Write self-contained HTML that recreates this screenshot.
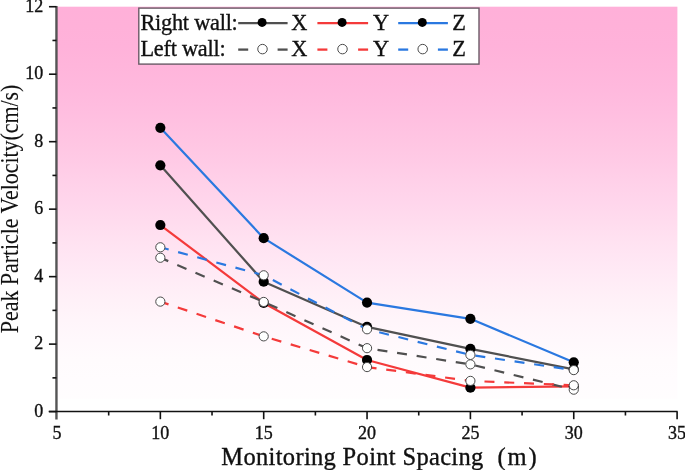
<!DOCTYPE html><html><head><meta charset="utf-8"><style>
html,body{margin:0;padding:0;background:#fff;width:685px;height:470px;overflow:hidden}
svg{display:block}
text{font-family:"Liberation Serif","Noto Serif CJK SC",serif;fill:#111;stroke:#111;stroke-width:0.35px}
</style></head><body>
<svg width="685" height="470" viewBox="0 0 685 470">
<defs><linearGradient id="g" x1="0" y1="0" x2="0" y2="1"><stop offset="0.00" stop-color="rgb(255,176,217)"/><stop offset="0.05" stop-color="rgb(255,177,217)"/><stop offset="0.10" stop-color="rgb(255,178,218)"/><stop offset="0.15" stop-color="rgb(255,181,219)"/><stop offset="0.20" stop-color="rgb(255,184,221)"/><stop offset="0.25" stop-color="rgb(255,188,223)"/><stop offset="0.30" stop-color="rgb(255,193,225)"/><stop offset="0.35" stop-color="rgb(255,198,227)"/><stop offset="0.40" stop-color="rgb(255,203,230)"/><stop offset="0.45" stop-color="rgb(255,209,233)"/><stop offset="0.50" stop-color="rgb(255,214,236)"/><stop offset="0.55" stop-color="rgb(255,220,238)"/><stop offset="0.60" stop-color="rgb(255,226,241)"/><stop offset="0.65" stop-color="rgb(255,231,244)"/><stop offset="0.70" stop-color="rgb(255,236,246)"/><stop offset="0.75" stop-color="rgb(255,241,248)"/><stop offset="0.80" stop-color="rgb(255,245,250)"/><stop offset="0.85" stop-color="rgb(255,248,252)"/><stop offset="0.90" stop-color="rgb(255,251,253)"/><stop offset="0.95" stop-color="rgb(255,252,254)"/><stop offset="1.00" stop-color="rgb(255,253,254)"/></linearGradient></defs>
<rect x="57.0" y="6.7" width="620.4" height="392.1" fill="url(#g)"/>
<polyline points="160.35,165.30 263.70,281.70 367.05,326.91 470.40,348.84 573.75,369.43" fill="none" stroke="#505050" stroke-width="2.2" stroke-linejoin="round"/>
<circle cx="160.35" cy="165.30" r="5.1" fill="#000"/>
<circle cx="263.70" cy="281.70" r="5.1" fill="#000"/>
<circle cx="367.05" cy="326.91" r="5.1" fill="#000"/>
<circle cx="470.40" cy="348.84" r="5.1" fill="#000"/>
<circle cx="573.75" cy="369.43" r="5.1" fill="#000"/>
<polyline points="160.35,225.02 263.70,302.96 367.05,359.98 470.40,387.64 573.75,386.30" fill="none" stroke="#f43a3a" stroke-width="2.2" stroke-linejoin="round"/>
<circle cx="160.35" cy="225.02" r="5.1" fill="#000"/>
<circle cx="263.70" cy="302.96" r="5.1" fill="#000"/>
<circle cx="367.05" cy="359.98" r="5.1" fill="#000"/>
<circle cx="470.40" cy="387.64" r="5.1" fill="#000"/>
<circle cx="573.75" cy="386.30" r="5.1" fill="#000"/>
<polyline points="160.35,127.85 263.70,238.18 367.05,302.62 470.40,318.81 573.75,362.34" fill="none" stroke="#2a78e0" stroke-width="2.2" stroke-linejoin="round"/>
<circle cx="160.35" cy="127.85" r="5.1" fill="#000"/>
<circle cx="263.70" cy="238.18" r="5.1" fill="#000"/>
<circle cx="367.05" cy="302.62" r="5.1" fill="#000"/>
<circle cx="470.40" cy="318.81" r="5.1" fill="#000"/>
<circle cx="573.75" cy="362.34" r="5.1" fill="#000"/>
<polyline points="160.35,257.75 263.70,301.95 367.05,348.17 470.40,364.36 573.75,389.67" fill="none" stroke="#505050" stroke-width="2.2" stroke-dasharray="10 9.8" stroke-dashoffset="1.4"/>
<circle cx="160.35" cy="257.75" r="4.6" fill="#fff" stroke="#4a4a4a" stroke-width="1.0"/>
<circle cx="263.70" cy="301.95" r="4.6" fill="#fff" stroke="#4a4a4a" stroke-width="1.0"/>
<circle cx="367.05" cy="348.17" r="4.6" fill="#fff" stroke="#4a4a4a" stroke-width="1.0"/>
<circle cx="470.40" cy="364.36" r="4.6" fill="#fff" stroke="#4a4a4a" stroke-width="1.0"/>
<circle cx="573.75" cy="389.67" r="4.6" fill="#fff" stroke="#4a4a4a" stroke-width="1.0"/>
<polyline points="160.35,301.61 263.70,336.36 367.05,367.06 470.40,380.90 573.75,385.28" fill="none" stroke="#f43a3a" stroke-width="2.2" stroke-dasharray="10 9.8" stroke-dashoffset="1.4"/>
<circle cx="160.35" cy="301.61" r="4.6" fill="#fff" stroke="#4a4a4a" stroke-width="1.0"/>
<circle cx="263.70" cy="336.36" r="4.6" fill="#fff" stroke="#4a4a4a" stroke-width="1.0"/>
<circle cx="367.05" cy="367.06" r="4.6" fill="#fff" stroke="#4a4a4a" stroke-width="1.0"/>
<circle cx="470.40" cy="380.90" r="4.6" fill="#fff" stroke="#4a4a4a" stroke-width="1.0"/>
<circle cx="573.75" cy="385.28" r="4.6" fill="#fff" stroke="#4a4a4a" stroke-width="1.0"/>
<polyline points="160.35,247.29 263.70,275.29 367.05,329.27 470.40,354.92 573.75,370.10" fill="none" stroke="#2a78e0" stroke-width="2.2" stroke-dasharray="10 9.8" stroke-dashoffset="1.4"/>
<circle cx="160.35" cy="247.29" r="4.6" fill="#fff" stroke="#4a4a4a" stroke-width="1.0"/>
<circle cx="263.70" cy="275.29" r="4.6" fill="#fff" stroke="#4a4a4a" stroke-width="1.0"/>
<circle cx="367.05" cy="329.27" r="4.6" fill="#fff" stroke="#4a4a4a" stroke-width="1.0"/>
<circle cx="470.40" cy="354.92" r="4.6" fill="#fff" stroke="#4a4a4a" stroke-width="1.0"/>
<circle cx="573.75" cy="370.10" r="4.6" fill="#fff" stroke="#4a4a4a" stroke-width="1.0"/>
<line x1="56.45" y1="6.1" x2="56.45" y2="419.5" stroke="#555" stroke-width="2.4"/>
<line x1="48.7" y1="411.5" x2="677.6" y2="411.5" stroke="#111" stroke-width="1.7"/>
<line x1="48.95" y1="411.60" x2="56.45" y2="411.60" stroke="#111" stroke-width="1.6"/>
<line x1="52.45" y1="377.86" x2="56.45" y2="377.86" stroke="#111" stroke-width="1.6"/>
<line x1="48.95" y1="344.12" x2="56.45" y2="344.12" stroke="#111" stroke-width="1.6"/>
<line x1="52.45" y1="310.38" x2="56.45" y2="310.38" stroke="#111" stroke-width="1.6"/>
<line x1="48.95" y1="276.64" x2="56.45" y2="276.64" stroke="#111" stroke-width="1.6"/>
<line x1="52.45" y1="242.90" x2="56.45" y2="242.90" stroke="#111" stroke-width="1.6"/>
<line x1="48.95" y1="209.16" x2="56.45" y2="209.16" stroke="#111" stroke-width="1.6"/>
<line x1="52.45" y1="175.42" x2="56.45" y2="175.42" stroke="#111" stroke-width="1.6"/>
<line x1="48.95" y1="141.68" x2="56.45" y2="141.68" stroke="#111" stroke-width="1.6"/>
<line x1="52.45" y1="107.94" x2="56.45" y2="107.94" stroke="#111" stroke-width="1.6"/>
<line x1="48.95" y1="74.20" x2="56.45" y2="74.20" stroke="#111" stroke-width="1.6"/>
<line x1="52.45" y1="40.46" x2="56.45" y2="40.46" stroke="#111" stroke-width="1.6"/>
<line x1="48.95" y1="6.72" x2="56.45" y2="6.72" stroke="#111" stroke-width="1.6"/>
<text x="43.3" y="416.80" font-size="18" text-anchor="end">0</text>
<text x="43.3" y="349.32" font-size="18" text-anchor="end">2</text>
<text x="43.3" y="281.84" font-size="18" text-anchor="end">4</text>
<text x="43.3" y="214.36" font-size="18" text-anchor="end">6</text>
<text x="43.3" y="146.88" font-size="18" text-anchor="end">8</text>
<text x="43.3" y="79.40" font-size="18" text-anchor="end">10</text>
<text x="43.3" y="11.92" font-size="18" text-anchor="end">12</text>
<line x1="108.68" y1="411.5" x2="108.68" y2="415.50" stroke="#111" stroke-width="1.6"/>
<line x1="160.35" y1="411.5" x2="160.35" y2="419.20" stroke="#111" stroke-width="1.6"/>
<line x1="212.03" y1="411.5" x2="212.03" y2="415.50" stroke="#111" stroke-width="1.6"/>
<line x1="263.70" y1="411.5" x2="263.70" y2="419.20" stroke="#111" stroke-width="1.6"/>
<line x1="315.38" y1="411.5" x2="315.38" y2="415.50" stroke="#111" stroke-width="1.6"/>
<line x1="367.05" y1="411.5" x2="367.05" y2="419.20" stroke="#111" stroke-width="1.6"/>
<line x1="418.73" y1="411.5" x2="418.73" y2="415.50" stroke="#111" stroke-width="1.6"/>
<line x1="470.40" y1="411.5" x2="470.40" y2="419.20" stroke="#111" stroke-width="1.6"/>
<line x1="522.08" y1="411.5" x2="522.08" y2="415.50" stroke="#111" stroke-width="1.6"/>
<line x1="573.75" y1="411.5" x2="573.75" y2="419.20" stroke="#111" stroke-width="1.6"/>
<line x1="625.43" y1="411.5" x2="625.43" y2="415.50" stroke="#111" stroke-width="1.6"/>
<line x1="677.10" y1="411.5" x2="677.10" y2="419.20" stroke="#111" stroke-width="1.6"/>
<text x="57.00" y="438.6" font-size="18" text-anchor="middle">5</text>
<text x="160.35" y="438.6" font-size="18" text-anchor="middle">10</text>
<text x="263.70" y="438.6" font-size="18" text-anchor="middle">15</text>
<text x="367.05" y="438.6" font-size="18" text-anchor="middle">20</text>
<text x="470.40" y="438.6" font-size="18" text-anchor="middle">25</text>
<text x="573.75" y="438.6" font-size="18" text-anchor="middle">30</text>
<text x="677.10" y="438.6" font-size="18" text-anchor="middle">35</text>
<text x="221.3" y="464.5" font-size="24.5" textLength="262" lengthAdjust="spacing">Monitoring Point Spacing</text>
<text x="497.6" y="464.5" font-size="24.5" textLength="39" lengthAdjust="spacing">(m)</text>
<text transform="translate(17.6,333.2) scale(1.1,1) rotate(-90)" font-size="22" style="stroke-width:0.1px" textLength="248.6" lengthAdjust="spacing">Peak Particle Velocity(cm/s)</text>
<rect x="138.8" y="8.1" width="340.2" height="56" fill="#fff" stroke="#6a5a66" stroke-width="1.4"/>
<text x="140.4" y="29.6" font-size="22.3" textLength="97.4" lengthAdjust="spacing">Right wall:</text>
<text x="140.4" y="56.2" font-size="22.3" textLength="85.2" lengthAdjust="spacing">Left wall:</text>
<line x1="238.2" y1="23.2" x2="287.6" y2="23.2" stroke="#505050" stroke-width="2.2"/>
<circle cx="262.1" cy="22.4" r="4.5" fill="#000"/>
<line x1="238.2" y1="49.6" x2="248.2" y2="49.6" stroke="#505050" stroke-width="2.3"/>
<line x1="277.6" y1="49.6" x2="287.6" y2="49.6" stroke="#505050" stroke-width="2.3"/>
<circle cx="262.5" cy="49.1" r="4.75" fill="#fff" stroke="#4a4a4a" stroke-width="1.0"/>
<text x="291.3" y="29.6" font-size="22.3">X</text>
<text x="291.3" y="56.2" font-size="22.3">X</text>
<line x1="317.4" y1="23.2" x2="368.1" y2="23.2" stroke="#f43a3a" stroke-width="2.2"/>
<circle cx="342.1" cy="22.4" r="4.5" fill="#000"/>
<line x1="317.4" y1="49.6" x2="327.4" y2="49.6" stroke="#f43a3a" stroke-width="2.3"/>
<line x1="358.1" y1="49.6" x2="368.1" y2="49.6" stroke="#f43a3a" stroke-width="2.3"/>
<circle cx="342.5" cy="49.1" r="4.75" fill="#fff" stroke="#4a4a4a" stroke-width="1.0"/>
<text x="372.9" y="29.6" font-size="22.3">Y</text>
<text x="372.9" y="56.2" font-size="22.3">Y</text>
<line x1="398.2" y1="23.2" x2="447.9" y2="23.2" stroke="#2a78e0" stroke-width="2.2"/>
<circle cx="422.3" cy="22.4" r="4.5" fill="#000"/>
<line x1="398.2" y1="49.6" x2="408.2" y2="49.6" stroke="#2a78e0" stroke-width="2.3"/>
<line x1="437.9" y1="49.6" x2="447.9" y2="49.6" stroke="#2a78e0" stroke-width="2.3"/>
<circle cx="422.7" cy="49.1" r="4.75" fill="#fff" stroke="#4a4a4a" stroke-width="1.0"/>
<text x="452.3" y="29.6" font-size="22.3">Z</text>
<text x="452.3" y="56.2" font-size="22.3">Z</text>
</svg></body></html>
